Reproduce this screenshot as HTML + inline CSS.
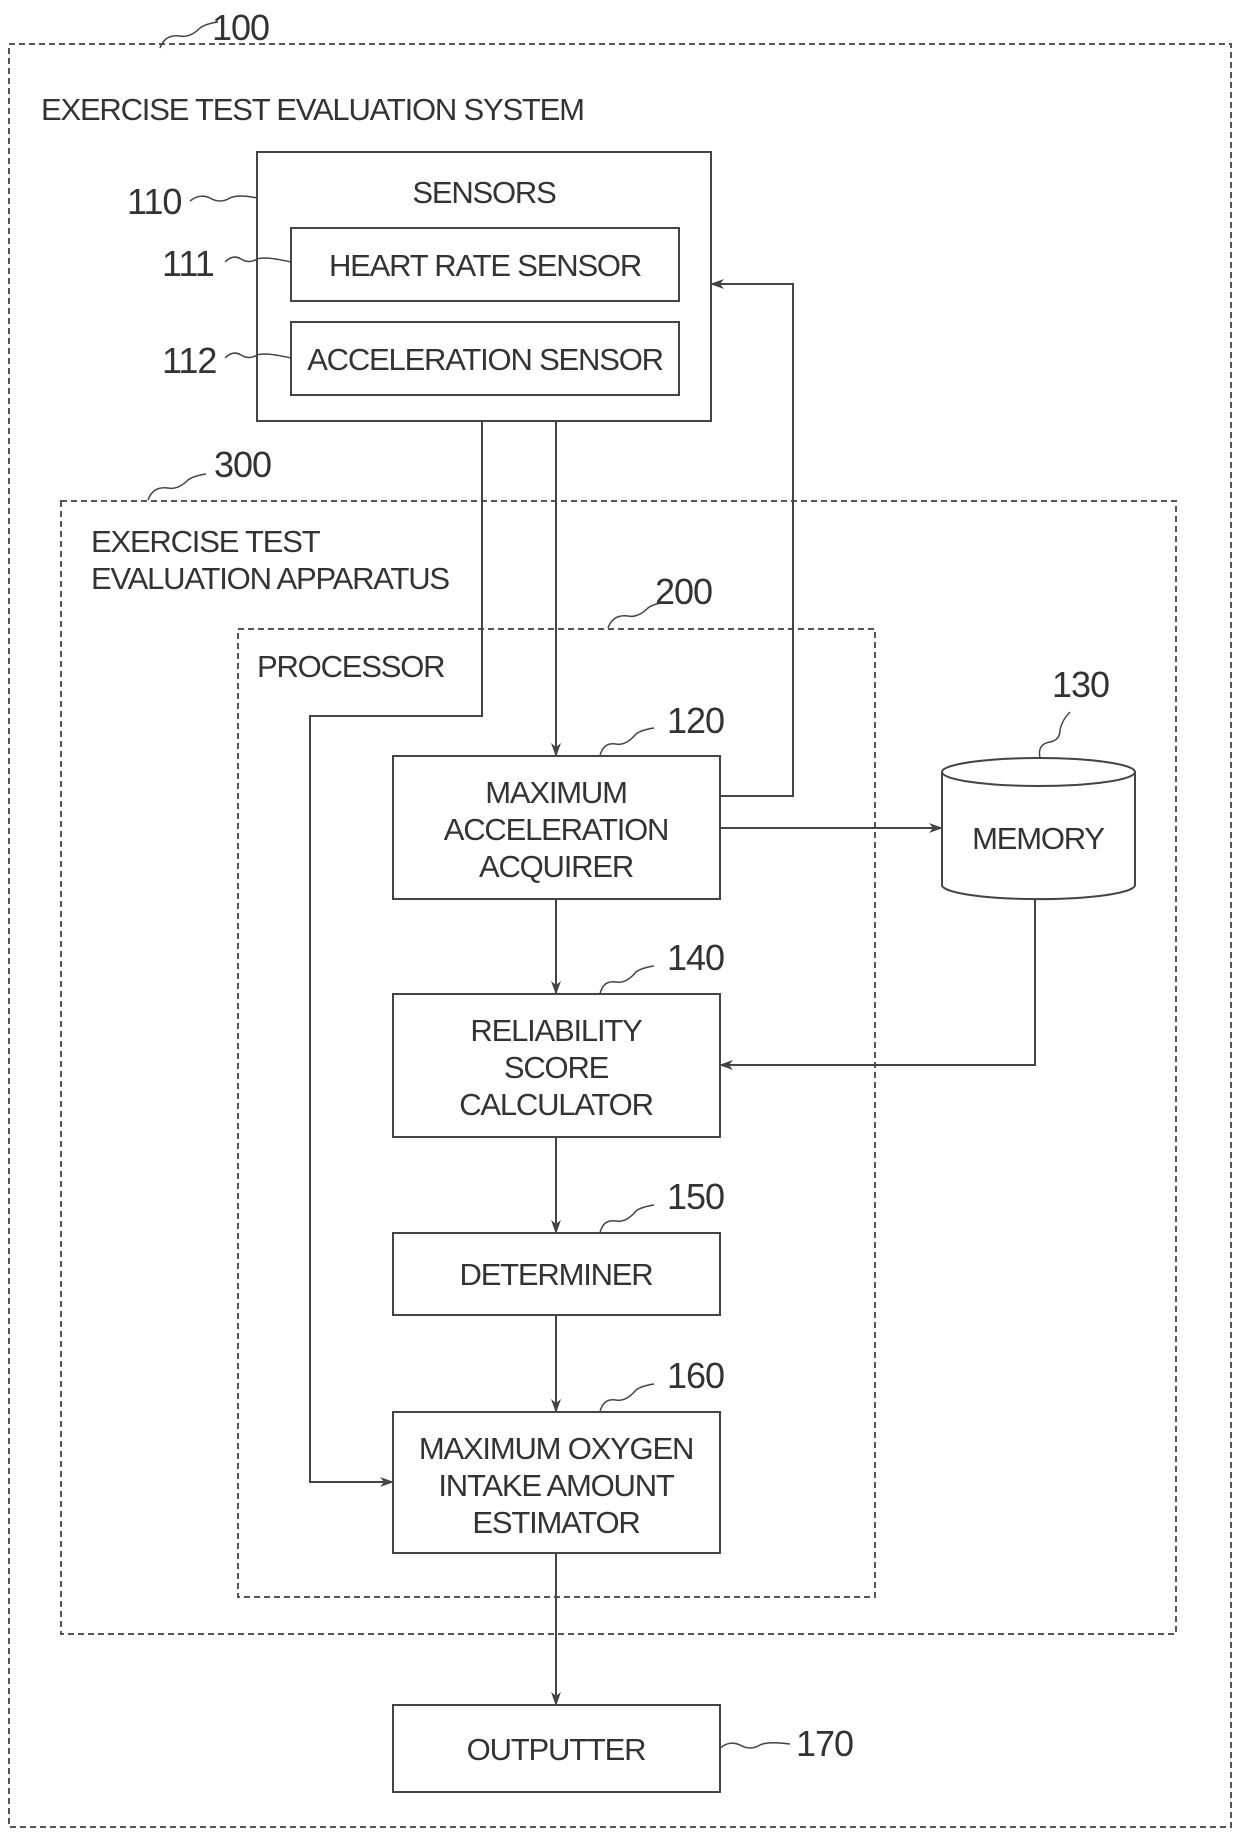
<!DOCTYPE html>
<html><head><style>
html,body{margin:0;padding:0;background:#fff}
svg{display:block}
text{font-family:"Liberation Sans",sans-serif;fill:#333;font-size:31px;letter-spacing:-1.2px}
text.n{font-size:36px;letter-spacing:-1px}
</style></head><body>
<svg width="1240" height="1836" viewBox="0 0 1240 1836">
<defs><marker id="a" markerWidth="14" markerHeight="10" refX="13" refY="5" orient="auto" markerUnits="userSpaceOnUse"><path d="M0,0 L14,5 L0,10 L4,5 Z" fill="#444"/></marker></defs>
<g fill="none" stroke="#555" stroke-width="2" stroke-dasharray="6,4">
<rect x="9" y="44" width="1222" height="1783"/>
<rect x="61" y="501" width="1115" height="1133"/>
<rect x="238" y="629" width="637" height="968"/>
</g>
<g fill="none" stroke="#444" stroke-width="2">
<rect x="257" y="152" width="454" height="269"/>
<rect x="291" y="228" width="388" height="73"/>
<rect x="291" y="322" width="388" height="73"/>
<rect x="393" y="756" width="327" height="143"/>
<rect x="393" y="994" width="327" height="143"/>
<rect x="393" y="1233" width="327" height="82"/>
<rect x="393" y="1412" width="327" height="141"/>
<rect x="393" y="1705" width="327" height="87"/>
<path d="M942,772 v113 a96,14 0 0 0 193,0 v-113"/>
<ellipse cx="1038.5" cy="772" rx="96.5" ry="14"/>
</g>
<g fill="none" stroke="#444" stroke-width="2" marker-end="url(#a)">
<path d="M556,421 V756"/>
<path d="M556,899 V994"/>
<path d="M556,1137 V1233"/>
<path d="M556,1315 V1412"/>
<path d="M556,1553 V1705"/>
<path d="M482,421 V716 H310 V1482 H393"/>
<path d="M720,796 H793 V284 H711"/>
<path d="M720,828 H942"/>
<path d="M1035,899 V1065 H720"/>
</g>
<g fill="none" stroke="#444" stroke-width="1.5">
<path d="M160,48 q5,-14 20,-12 q10,2 20,-8 q5,-4 18,-6"/>
<path d="M190,201 q10,-8 20,-3 q10,6 20,0 q8,-4 27,0"/>
<path d="M225,262 q8,-8 16,-3 q8,5 16,0 q8,-3 34,3"/>
<path d="M225,358 q8,-8 16,-3 q8,5 16,0 q8,-3 34,3"/>
<path d="M148,500 q5,-14 20,-12 q10,2 20,-8 q5,-4 18,-6"/>
<path d="M608,628 q5,-14 20,-12 q10,2 20,-8 q5,-4 18,-6"/>
<path d="M600,756 q3,-14 16,-12 q10,2 20,-10 q5,-4 18,-6"/>
<path d="M600,994 q3,-14 16,-12 q10,2 20,-10 q5,-4 18,-6"/>
<path d="M600,1233 q3,-14 16,-12 q10,2 20,-10 q5,-4 18,-6"/>
<path d="M600,1412 q3,-14 16,-12 q10,2 20,-10 q5,-4 18,-6"/>
<path d="M1040,758 q-3,-14 10,-16 q10,-2 10,-12 q2,-10 10,-18"/>
<path d="M720,1748 q10,-8 20,-3 q10,6 20,0 q8,-4 30,-1"/>
</g>
<text class="n" x="212" y="40">100</text>
<text x="41" y="120">EXERCISE TEST EVALUATION SYSTEM</text>
<text x="484" y="203" text-anchor="middle">SENSORS</text>
<text x="485" y="276" text-anchor="middle">HEART RATE SENSOR</text>
<text x="485" y="370" text-anchor="middle">ACCELERATION SENSOR</text>
<text class="n" x="127" y="214">110</text>
<text class="n" x="162" y="276">111</text>
<text class="n" x="162" y="373">112</text>
<text class="n" x="214" y="477">300</text>
<text x="91" y="552">EXERCISE TEST</text>
<text x="91" y="589">EVALUATION APPARATUS</text>
<text class="n" x="655" y="604">200</text>
<text x="257" y="677">PROCESSOR</text>
<text class="n" x="667" y="733">120</text>
<text class="n" x="667" y="970">140</text>
<text class="n" x="667" y="1209">150</text>
<text class="n" x="667" y="1388">160</text>
<text class="n" x="1052" y="697">130</text>
<text class="n" x="796" y="1756">170</text>
<text x="556" y="803" text-anchor="middle">MAXIMUM</text>
<text x="556" y="840" text-anchor="middle">ACCELERATION</text>
<text x="556" y="877" text-anchor="middle">ACQUIRER</text>
<text x="556" y="1041" text-anchor="middle">RELIABILITY</text>
<text x="556" y="1078" text-anchor="middle">SCORE</text>
<text x="556" y="1115" text-anchor="middle">CALCULATOR</text>
<text x="556" y="1285" text-anchor="middle">DETERMINER</text>
<text x="556" y="1459" text-anchor="middle">MAXIMUM OXYGEN</text>
<text x="556" y="1496" text-anchor="middle">INTAKE AMOUNT</text>
<text x="556" y="1533" text-anchor="middle">ESTIMATOR</text>
<text x="556" y="1760" text-anchor="middle">OUTPUTTER</text>
<text x="1038" y="849" text-anchor="middle">MEMORY</text>
</svg>
</body></html>
